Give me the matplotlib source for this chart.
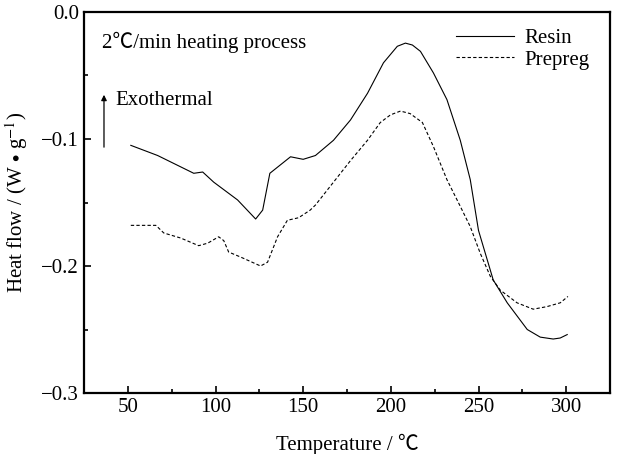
import numpy as np
import matplotlib
matplotlib.use('Agg')
import matplotlib.pyplot as plt
from matplotlib.ticker import MultipleLocator, FuncFormatter

# DSC curves
resin_T = [51.7, 67, 87.6, 92.7, 99, 112.6, 122.9, 126.9, 131, 142.8, 150, 157,
           167.3, 177, 186.7, 195.8, 203.7, 208.3, 212.3, 216.9, 224.3, 232,
           239.6, 245.3, 250, 258.4, 266.4, 277.8, 285.2, 292.6, 296.6, 300.6]
resin_q = [-0.105, -0.113, -0.127, -0.126, -0.134, -0.148, -0.163, -0.156, -0.127,
           -0.114, -0.116, -0.113, -0.101, -0.085, -0.064, -0.040, -0.027, -0.0245,
           -0.026, -0.031, -0.048, -0.069, -0.101, -0.132, -0.172, -0.211, -0.229,
           -0.250, -0.256, -0.2575, -0.2567, -0.254]

prepreg_T = [51.7, 66, 70.5, 80.2, 90.4, 95.6, 101.8, 104.7, 107.5, 114.4, 125.7,
             129.7, 135.4, 141, 147.4, 154, 157, 167.3, 177, 186.7, 194, 199.8,
             205.5, 211, 218, 224.3, 232, 239.6, 245.3, 251, 256.7, 262.4, 272,
             281.2, 289, 296.6, 301]
prepreg_q = [-0.168, -0.168, -0.174, -0.178, -0.184, -0.182, -0.177, -0.180, -0.189,
             -0.193, -0.200, -0.197, -0.177, -0.164, -0.162, -0.156, -0.152, -0.134,
             -0.117, -0.101, -0.087, -0.081, -0.078, -0.080, -0.087, -0.106, -0.132,
             -0.153, -0.169, -0.190, -0.208, -0.219, -0.229, -0.234, -0.232, -0.229,
             -0.224]

plt.rcParams['font.family'] = ['Liberation Serif', 'Noto Sans CJK SC', 'DejaVu Serif']
plt.rcParams['mathtext.fontset'] = 'stix'

fig = plt.figure(figsize=(6.17, 4.54), dpi=100)
ax = fig.add_axes([84/617, 1-393/454, (610-84)/617, (393-12)/454])

ax.plot(resin_T, resin_q, color='black', lw=0.8, label='Resin')
ax.plot(prepreg_T, prepreg_q, color='black', lw=0.8, ls=(0, (3, 2)), label='Prepreg')

ax.set_xlim(25, 325)
ax.set_ylim(-0.3, 0.0)
ax.xaxis.set_major_locator(MultipleLocator(50))
ax.xaxis.set_minor_locator(MultipleLocator(25))
ax.yaxis.set_major_locator(MultipleLocator(0.1))
ax.yaxis.set_minor_locator(MultipleLocator(0.05))
ax.yaxis.set_major_formatter(FuncFormatter(lambda v, p: ('%.1f' % v).replace('-', '\u2212')))
ax.tick_params(which='both', direction='in', top=False, right=False, labelsize=15, width=1.2)
ax.tick_params(which='major', length=5)
ax.tick_params(which='minor', length=3)
for s in ax.spines.values():
    s.set_linewidth(1.6)

ax.set_xlabel('Temperature / ℃', fontsize=15, labelpad=12)
ax.set_ylabel('Heat flow / (W$\\,\\bullet\\,$g$^{-1}$)', fontsize=15, labelpad=8)

ax.text(0.034, 0.919, '2℃/min heating process', transform=ax.transAxes, fontsize=15, va='center')
ax.annotate('', xy=(0.038, 0.79), xytext=(0.038, 0.638), xycoords='axes fraction',
            arrowprops=dict(arrowstyle='-|>', color='black', lw=0.9, mutation_scale=8))
ax.text(0.059, 0.769, 'Exothermal', transform=ax.transAxes, fontsize=15, va='center')

ax.legend(loc='upper right', frameon=False, fontsize=15, handlelength=2.8,
          handletextpad=0.5, labelspacing=0.1, borderaxespad=0.2, bbox_to_anchor=(0.985, 0.99))

fig.savefig('out.png', dpi=100)
